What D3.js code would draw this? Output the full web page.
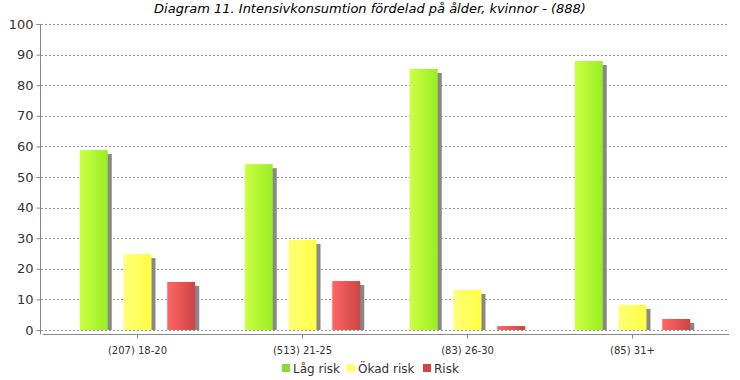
<!DOCTYPE html>
<html><head><meta charset="utf-8">
<script src="https://cdn.jsdelivr.net/npm/d3@7"></script>
<style>body{margin:0;background:#fff}svg{display:block;font-family:"DejaVu Sans",sans-serif}</style>
</head><body><svg id="c" width="740" height="380"></svg>
<script>
const categories = ["(207) 18-20","(513) 21-25","(83) 26-30","(85) 31+"];
const seriesNames = ["Låg risk","Ökad risk","Risk"];
const lagRisk = [58.8, 54.2, 85.3, 87.9];
const okadRisk = [24.8, 29.4, 13.1, 8.2];
const risk = [15.7, 16.0, 1.3, 3.6];
const yTicks = [0,10,20,30,40,50,60,70,80,90,100];
const title = "Diagram 11. Intensivkonsumtion fördelad på ålder, kvinnor - (888)";

const series = [lagRisk, okadRisk, risk];
const colors = [["#ccff44","#99ee22"],["#ffff77","#ffff44"],["#ff6666","#cc4444"]];
const legendColors = ["#88dd33","#ffff66","#cc4444"];

const svg = d3.select("#c");
const defs = svg.append("defs");
colors.forEach((c,i)=>{
  const g = defs.append("linearGradient").attr("id","g"+i).attr("x1","0").attr("x2","1").attr("y1","0").attr("y2","0");
  g.append("stop").attr("offset","0").attr("stop-color",c[0]);
  g.append("stop").attr("offset","1").attr("stop-color",c[1]);
});

const x = d3.scaleBand().domain(categories).range([55,715]);
const x1 = d3.scaleBand().domain(d3.range(3)).range([x.bandwidth()*0.15, x.bandwidth()*0.85]).paddingInner(0.36).paddingOuter(0);
const y = d3.scaleLinear().domain([0,100]).range([330,24]);

svg.append("text").attr("x",370).attr("y",13).attr("text-anchor","middle")
  .attr("font-size",13).attr("font-style","italic").attr("fill","#000").text(title);

// grid
svg.append("g").selectAll("line").data(yTicks).join("line")
  .attr("x1",41).attr("x2",728).attr("y1",d=>Math.round(y(d))+0.5).attr("y2",d=>Math.round(y(d))+0.5)
  .attr("stroke","#999").attr("stroke-dasharray","2,2").attr("stroke-width",1);

// y axis
const ya = svg.append("g").attr("transform","translate(40.5,0)")
  .call(d3.axisLeft(y).tickValues(yTicks).tickSize(4).tickPadding(3));
ya.select(".domain").attr("stroke","#888").attr("d","M-4,24.5H0V334.5");
ya.selectAll(".tick line").attr("stroke","#888");
ya.selectAll("text").attr("font-size",13).attr("fill","#333").attr("font-family","DejaVu Sans");

// x axis
const xa = svg.append("g").attr("transform","translate(0,334.5)")
  .call(d3.axisBottom(x).tickSize(4).tickPadding(8));
xa.select(".domain").attr("stroke","#888").attr("d","M43,0H729");
xa.selectAll(".tick line").attr("stroke","#888");
xa.selectAll("text").attr("font-size",10).attr("fill","#333").attr("font-family","DejaVu Sans");

// bars
series.forEach((vals,si)=>{
  const g = svg.append("g");
  g.selectAll("rect.sh").data(vals).join("rect").attr("class","sh")
    .attr("x",(d,i)=>x(categories[i])+x1(si)+4)
    .attr("y",d=>y(d)+4).attr("width",x1.bandwidth())
    .attr("height",d=>Math.max(0,y(0)-y(d)-4)).attr("fill","#888");
  g.selectAll("rect.b").data(vals).join("rect").attr("class","b")
    .attr("x",(d,i)=>x(categories[i])+x1(si))
    .attr("y",d=>y(d)).attr("width",x1.bandwidth())
    .attr("height",d=>y(0)-y(d)).attr("fill","url(#g"+si+")");
});

// legend
const lg = svg.append("g").attr("transform","translate(0,368)");
const lx = [282,347,423];
seriesNames.forEach((n,i)=>{
  lg.append("rect").attr("x",lx[i]).attr("y",-4).attr("width",8).attr("height",8).attr("fill",legendColors[i]);
  lg.append("text").attr("x",lx[i]+11).attr("y",4.5).attr("font-size",12).attr("fill","#333").text(n);
});
</script></body></html>
